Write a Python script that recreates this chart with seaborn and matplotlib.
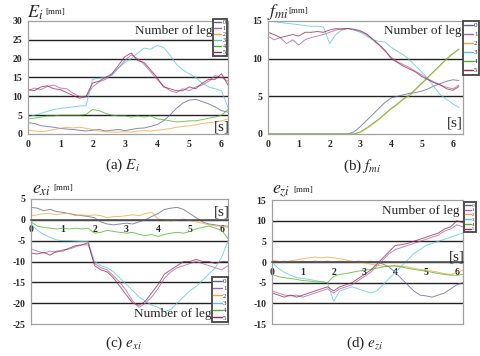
import matplotlib
matplotlib.use("Agg")
import matplotlib.pyplot as plt
import numpy as np
import pandas as pd
import seaborn as sns

# time axis [s], read every 0.2 s
t = [round(0.2 * i, 1) for i in range(32)]
legs = ['0', '1', '2', '3', '4', '5']

# (a) E_i [mm]
e_0 = [3.0, 2.8, 2.2, 2.0, 1.8, 1.5, 1.3, 1.2, 1.0, 0.8, 1.0, 1.2, 0.8, 1.0, 1.2, 0.9,
       1.2, 1.5, 1.6, 2.0, 2.5, 3.5, 5.0, 6.8, 8.2, 9.0, 9.2, 8.6, 8.0, 7.2, 6.2, 5.8]
e_1 = [11.5, 12.2, 11.8, 12.6, 13.0, 12.2, 12.0, 10.8, 10.0, 9.8, 12.5, 13.8, 14.5, 15.8, 17.5, 19.5,
       21.0, 20.0, 18.5, 16.5, 14.5, 12.8, 11.5, 11.0, 12.0, 11.5, 12.5, 13.0, 14.0, 15.5, 15.0, 14.0]
e_2 = [1.0, 0.8, 0.6, 0.8, 1.2, 1.5, 1.8, 1.6, 1.8, 1.5, 1.2, 0.8, 0.6, 0.5, 0.5, 0.6,
       0.5, 0.8, 0.9, 0.8, 1.0, 1.2, 1.4, 1.8, 2.0, 2.2, 2.4, 2.8, 3.0, 3.2, 3.5, 4.0]
e_3 = [4.5, 5.0, 5.5, 6.0, 6.5, 6.8, 7.0, 7.2, 7.4, 7.5, 14.5, 14.8, 15.0, 15.5, 17.5, 19.0,
       20.0, 21.5, 22.8, 22.5, 23.5, 23.0, 21.0, 18.5, 17.0, 16.0, 15.0, 13.5, 12.5, 12.0, 11.5, 7.0]
e_4 = [4.0, 4.2, 4.5, 4.8, 4.8, 5.0, 5.0, 5.0, 5.0, 5.2, 6.5, 6.2, 5.5, 5.0, 4.8, 4.8,
       4.5, 4.8, 4.5, 4.8, 4.0, 3.8, 3.5, 3.2, 3.3, 3.5, 3.5, 3.8, 4.2, 4.5, 5.0, 6.5]
e_5 = [11.8, 11.5, 12.5, 12.8, 12.0, 11.8, 11.0, 10.2, 9.5, 10.0, 13.5, 14.0, 15.0, 16.0, 18.2, 20.5,
       21.5, 19.5, 19.0, 17.0, 15.0, 12.5, 12.0, 11.5, 11.5, 12.5, 12.0, 13.5, 14.5, 14.5, 16.0, 13.0]

# (b) f_mi [mm]
f_0 = [0, 0, 0, 0, 0, 0, 0, 0, 0, 0, 0, 0, 0, 0, 0.3, 1.0,
       1.8, 2.6, 3.4, 4.2, 4.8, 5.0, 5.2, 5.4, 5.5, 5.7, 6.0, 6.4, 6.7, 7.0, 7.2, 7.1]
f_1 = [13.0, 12.5, 12.8, 12.0, 12.5, 11.8, 12.5, 12.8, 13.0, 13.2, 13.5, 13.8, 14.0, 14.0, 13.8, 13.6,
       13.2, 12.5, 11.8, 11.0, 10.2, 9.6, 9.2, 8.8, 8.3, 7.8, 7.3, 6.9, 6.5, 6.2, 6.0, 6.5]
f_2 = [0, 0, 0, 0, 0, 0, 0, 0, 0, 0, 0, 0, 0, 0, 0, 0.2,
       0.7, 1.3, 1.9, 2.6, 3.3, 3.9, 4.6, 5.1, 5.9, 6.7, 7.5, 8.3, 9.1, 9.9, 10.6, 11.2]
f_3 = [15.0, 14.9, 14.8, 14.7, 14.6, 14.5, 14.4, 14.3, 14.3, 14.2, 12.0, 13.2, 13.8, 14.0, 13.8, 13.5,
       13.0, 12.5, 12.3, 12.2, 11.5, 11.0, 10.5, 9.8, 9.0, 8.2, 7.3, 6.2, 5.2, 4.6, 4.0, 3.5]
f_4 = [0, 0, 0, 0, 0, 0, 0, 0, 0, 0, 0, 0, 0, 0, 0, 0.3,
       0.8, 1.4, 2.0, 2.7, 3.4, 4.0, 4.7, 5.2, 6.0, 6.8, 7.6, 8.4, 9.2, 10.0, 10.7, 11.3]
f_5 = [13.5, 13.2, 12.8, 13.0, 13.2, 13.0, 13.5, 13.5, 13.6, 13.5, 13.8, 14.0, 13.9, 14.0, 13.9, 13.7,
       13.3, 12.6, 11.9, 11.1, 10.0, 9.5, 9.0, 8.6, 8.2, 7.6, 7.2, 6.8, 6.5, 6.0, 5.8, 6.3]

# (c) e_xi [mm]
x_0 = [3.0, 2.8, 2.2, 2.5, 2.0, 1.8, 1.5, 1.2, 1.0, 0.8, 0.5, -0.5, -1.0, -1.2, -1.0, -0.8,
       -1.0, -0.5, 0.0, 0.8, 1.5, 2.5, 2.8, 3.0, 2.5, 1.5, 0.5, -0.5, -1.0, -1.2, -1.5, -1.5]
x_1 = [-7.0, -7.5, -8.0, -7.5, -7.8, -7.2, -7.0, -6.5, -6.0, -6.0, -10.5, -11.5, -12.0, -13.5, -15.0, -17.0,
       -19.5, -21.0, -20.0, -18.5, -16.5, -14.0, -12.5, -11.5, -11.0, -10.5, -10.0, -10.5, -11.0, -11.5, -12.0, -11.0]
x_2 = [1.0, 1.2, 1.5, 1.5, 1.2, 1.5, 1.5, 1.0, 1.2, 1.0, 1.2, 1.0, 0.5, 0.8, 0.8, 1.0,
       1.2, 1.0, 1.5, 1.8, 0.2, 0.0, -0.3, 0.0, 0.2, -0.2, -0.5, -0.8, -1.2, -1.5, -1.5, -1.8]
x_3 = [-1.0, -2.5, -3.5, -4.2, -4.8, -5.0, -5.0, -5.1, -5.2, -5.2, -10.0, -11.0, -11.5, -12.5, -14.0, -15.5,
       -17.0, -18.5, -19.5, -20.5, -21.0, -22.0, -21.5, -20.0, -18.5, -17.0, -16.0, -14.5, -13.0, -11.5, -9.0, -5.0]
x_4 = [-0.5, -1.5, -1.8, -2.0, -2.2, -2.0, -2.2, -2.0, -2.2, -2.0, -3.2, -3.0, -2.5, -2.8, -3.0, -3.2,
       -3.0, -3.5, -3.8, -3.5, -4.0, -3.5, -3.2, -3.0, -3.2, -2.8, -2.2, -1.8, -1.5, -2.0, -2.5, -4.5]
x_5 = [-8.0, -8.2, -7.8, -8.5, -7.5, -7.5, -6.8, -6.2, -6.0, -5.5, -11.0, -12.0, -12.5, -14.0, -16.0, -18.0,
       -20.0, -20.5, -19.5, -17.5, -15.5, -13.0, -12.0, -11.0, -10.0, -10.0, -9.5, -10.0, -10.0, -10.5, -10.0, -10.0]

# (d) e_zi [mm]
z_0 = [0.2, 0.0, 0.2, 0.0, 0.0, 0.2, 0.0, 0.2, 0.0, 0.2, 0.0, 0.2, 0.0, 0.0, 0.2, 0.0,
       0.2, 0.0, -0.5, -1.2, -2.5, -4.0, -5.5, -7.0, -8.0, -8.2, -8.5, -8.0, -7.5, -6.5, -5.5, -5.0]
z_1 = [-7.0, -7.5, -8.0, -8.2, -8.0, -8.5, -8.0, -7.5, -7.0, -6.5, -7.5, -6.5, -6.0, -5.5, -4.5, -3.5,
       -2.5, -1.0, 0.5, 2.0, 3.0, 3.5, 4.0, 4.5, 5.0, 5.5, 6.0, 6.5, 7.5, 8.0, 9.0, 8.5]
z_2 = [0.5, 0.2, 0.0, 0.3, 0.5, 0.8, 1.0, 1.2, 1.0, 1.2, 1.0, 0.8, 0.5, 0.2, 0.0, -0.2,
       -0.5, -0.8, -1.0, -1.0, -0.8, -1.0, -1.2, -1.5, -1.8, -2.0, -2.2, -2.5, -2.8, -3.0, -2.5, -2.0]
z_3 = [0.0, -1.5, -2.5, -3.2, -3.8, -4.0, -4.2, -4.5, -4.8, -5.0, -9.5, -7.0, -6.5, -6.0, -6.5, -7.0,
       -7.5, -7.0, -5.5, -4.0, -2.5, -1.0, 0.5, 2.0, 3.0, 4.0, 4.5, 5.0, 5.5, 6.0, 6.5, 7.0]
z_4 = [-3.0, -3.5, -3.8, -4.0, -4.2, -4.5, -4.6, -4.8, -4.8, -5.0, -3.5, -3.0, -2.8, -2.5, -2.2, -2.0,
       -1.8, -1.5, -1.2, -1.0, -1.0, -1.2, -1.5, -1.8, -2.0, -2.2, -2.5, -2.8, -3.0, -3.2, -3.2, -3.0]
z_5 = [-7.5, -8.0, -8.5, -8.0, -8.5, -8.0, -7.5, -7.0, -6.5, -6.0, -7.0, -6.0, -5.5, -5.0, -4.0, -3.0,
       -2.0, -0.5, 1.0, 2.5, 4.0, 4.2, 4.5, 5.0, 5.5, 6.0, 6.5, 7.0, 8.0, 8.5, 10.0, 9.5]

colors = ['#5f5f94', '#b05ca6', '#f2a33a', '#5cc3d6', '#4cb02a', '#8e2a4a']


def to_long(series):
    rows = []
    for leg, vals in zip(legs, series):
        for ti, v in zip(t, vals):
            rows.append((ti, v, leg))
    return pd.DataFrame(rows, columns=['time', 'value', 'leg'])


sns.set_style("white")
plt.rcParams['font.family'] = ['Liberation Serif', 'DejaVu Serif']
plt.rcParams['mathtext.fontset'] = 'stix'
plt.rcParams['axes.unicode_minus'] = False

W, H = 481, 356
fig = plt.figure(figsize=(4.81, 3.56), dpi=100)


def box(l, tp, r, b):
    return [l / W, 1 - b / H, (r - l) / W, (b - tp) / H]


panels = [
    dict(data=[e_0, e_1, e_2, e_3, e_4, e_5], rect=box(28, 21, 228, 134), xlim=6.2,
         ylim=(0, 30), yt=[0, 5, 10, 15, 20, 25, 30], mid=False,
         sym=r'$E_i$', lab=(27, 13), cap='(a) ', capsym=r'$E_i$', cappos=(122, 165),
         leg=(213, 19, 4.3, 0.12), nol=(5.72, 27.3), s=(6.0, 1.9)),
    dict(data=[f_0, f_1, f_2, f_3, f_4, f_5], rect=box(268, 21, 463, 134), xlim=6.33,
         ylim=(0, 15), yt=[0, 5, 10, 15], mid=False,
         sym=r'$f_{mi}$', lab=(267, 12), cap='(b) ', capsym=r'$f_{mi}$', cappos=(362, 166),
         leg=(463, 21, 5, 0.45), nol=(6.27, 13.7), s=(6.05, 1.5)),
    dict(data=[x_0, x_1, x_2, x_3, x_4, x_5], rect=box(31, 199, 228, 324), xlim=6.2,
         ylim=(-25, 5), yt=[5, 0, -5, -10, -15, -20, -25], mid=True,
         sym=r'$e_{xi}$', lab=(32, 189), cap='(c) ', capsym=r'$e_{xi}$', cappos=(124, 343),
         leg=(212, 277, 5, 0.2), nol=(5.68, -22.5), s=(6.0, 1.8)),
    dict(data=[z_0, z_1, z_2, z_3, z_4, z_5], rect=box(272, 200, 463, 324), xlim=6.2,
         ylim=(-15, 15), yt=[15, 10, 5, 0, -5, -10, -15], mid=True,
         sym=r'$e_{zi}$', lab=(272, 191), cap='(d) ', capsym=r'$e_{zi}$', cappos=(365, 343),
         leg=(464, 202, 3.6, 0.05), nol=(6.1, 12.3), s=(6.0, 1.3)),
]

for p in panels:
    ax = fig.add_axes(p['rect'])
    df = to_long(p['data'])
    sns.lineplot(data=df, x='time', y='value', hue='leg', palette=colors,
                 estimator=None, linewidth=0.7, alpha=0.75, ax=ax, legend=False)
    ax.set_xlim(0, p['xlim'])
    ax.set_ylim(*p['ylim'])
    ax.set_xlabel('')
    ax.set_ylabel('')
    ax.set_xticks([0, 1, 2, 3, 4, 5, 6])
    ax.set_yticks(p['yt'])
    for yv in p['yt']:
        if yv not in p['ylim']:
            ax.axhline(yv, color='#222222', lw=1.0, zorder=0.5)
    for sp in ax.spines.values():
        sp.set_color('#a0a0a0')
        sp.set_linewidth(0.9)
    if p['mid']:
        ax.spines['bottom'].set_position(('data', 0))
        ax.spines['bottom'].set_color('#555555')
        ax.spines['bottom'].set_linewidth(1.2)
        ax.plot([0, 1], [0, 0], transform=ax.transAxes, color='#a0a0a0',
                lw=0.9, clip_on=False)
    ax.tick_params(axis='x', direction='in', length=3, width=0.8, color='#333333',
                   pad=4, labelsize=7)
    ax.tick_params(axis='y', length=0, pad=4, labelsize=7)
    for lab in ax.get_xticklabels() + ax.get_yticklabels():
        lab.set_fontweight('bold')

    # "Number of leg" and "[s]"
    xn, yn = p['nol']
    ax.text(xn, yn, 'Number of leg', fontsize=9.5, ha='right', va='center')
    ax.text(p['s'][0], p['s'][1], '[s]', fontsize=11, ha='center', va='center')

    # legend box
    lx, ly, fs, sp_ = p['leg']
    handles = [plt.Line2D([], [], color=c, lw=1.0) for c in colors]
    lg = ax.legend(handles, legs, loc='upper left', bbox_to_anchor=(lx / W, 1 - ly / H),
                   bbox_transform=fig.transFigure, fontsize=fs, handlelength=1.2,
                   handletextpad=0.2, labelspacing=sp_, borderpad=0.2,
                   borderaxespad=0, fancybox=False, framealpha=1)
    lg.get_frame().set_edgecolor('#444444')
    lg.get_frame().set_linewidth(1.3)

    # axis label at the top left
    fig.text(p['lab'][0] / W, 1 - p['lab'][1] / H, p['sym'], fontsize=13,
             ha='left', va='center')
    off = 18 if p['sym'] == r'$E_i$' else 21
    fig.text((p['lab'][0] + off) / W, 1 - (p['lab'][1] - 1) / H, '[mm]', fontsize=6.5,
             ha='left', va='center')

    # caption
    fig.text(p['cappos'][0] / W, 1 - p['cappos'][1] / H, p['cap'] + p['capsym'],
             fontsize=11, ha='center', va='center')

fig.savefig('out.png', dpi=100)
